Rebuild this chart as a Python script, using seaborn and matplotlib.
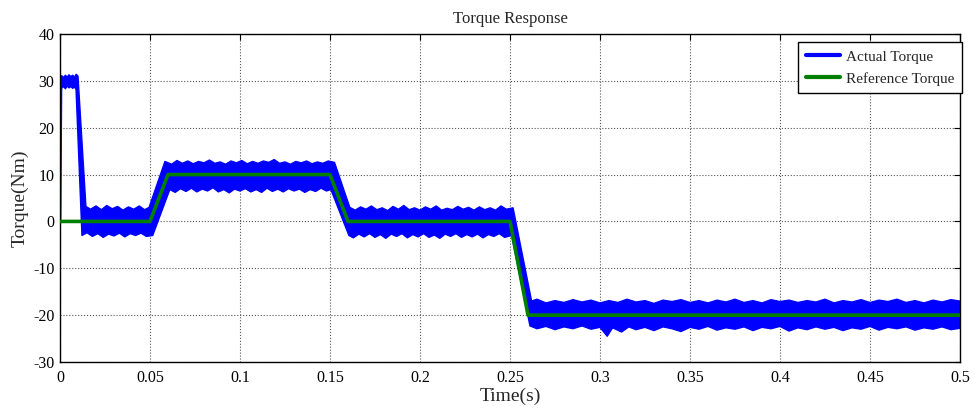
import numpy as np
import pandas as pd
import seaborn as sns
import matplotlib.pyplot as plt
from matplotlib.lines import Line2D

# reference torque (Nm) vs time (s)
t_ref = [0.0, 0.05, 0.06, 0.15, 0.16, 0.25, 0.26, 0.5]
torque_ref = [0, 0, 10, 10, 0, 0, -20, -20]

upper_edge = [
    (0.0, 0.0), (0.0002, 30.6), (0.001, 31.1), (0.002, 30.7), (0.003, 31.2),
    (0.004, 30.8), (0.005, 31.3), (0.006, 30.9), (0.007, 31.2), (0.008, 30.8),
    (0.009, 31.4), (0.0100, 31.0), (0.0144, 3.2),
    (0.017, 2.6), (0.020, 3.3), (0.023, 2.5), (0.026, 3.4), (0.029, 2.7),
    (0.032, 3.2), (0.035, 2.4), (0.038, 3.1), (0.041, 2.6), (0.044, 3.3),
    (0.047, 2.5), (0.0495, 3.0),
    (0.0583, 12.8), (0.062, 12.2), (0.065, 13.0), (0.068, 12.4), (0.071, 12.9),
    (0.074, 12.3), (0.077, 12.8), (0.080, 12.5), (0.083, 13.1), (0.086, 12.4),
    (0.089, 12.7), (0.092, 12.2), (0.095, 12.9), (0.098, 12.5), (0.101, 13.0),
    (0.104, 12.3), (0.107, 12.8), (0.110, 12.4), (0.113, 12.9), (0.116, 12.6),
    (0.119, 13.2), (0.122, 12.4), (0.125, 12.7), (0.128, 12.2), (0.131, 12.8),
    (0.134, 12.5), (0.137, 12.9), (0.140, 12.3), (0.143, 12.7), (0.146, 12.4),
    (0.149, 12.9), (0.1525, 12.6),
    (0.161, 3.0), (0.164, 2.4), (0.167, 3.1), (0.170, 2.6), (0.173, 3.3),
    (0.176, 2.5), (0.179, 2.9), (0.182, 2.3), (0.185, 3.2), (0.188, 2.6),
    (0.191, 3.4), (0.194, 2.5), (0.197, 2.9), (0.200, 2.4), (0.203, 3.1),
    (0.206, 2.6), (0.209, 3.3), (0.212, 2.4), (0.215, 2.8), (0.218, 2.5),
    (0.221, 3.2), (0.224, 2.6), (0.227, 3.0), (0.230, 2.4), (0.233, 3.1),
    (0.236, 2.5), (0.239, 2.9), (0.242, 2.4), (0.245, 3.3), (0.248, 2.6),
    (0.2517, 2.9),
    (0.2620, -17.0), (0.265, -16.6), (0.270, -17.4), (0.275, -16.9), (0.280, -17.3),
    (0.285, -16.7), (0.290, -17.2), (0.295, -16.8), (0.300, -17.4), (0.305, -16.9),
    (0.310, -17.3), (0.315, -16.6), (0.320, -17.2), (0.325, -16.9), (0.330, -17.5),
    (0.335, -16.8), (0.340, -17.1), (0.345, -16.7), (0.350, -17.3), (0.355, -16.9),
    (0.360, -17.4), (0.365, -16.8), (0.370, -17.2), (0.375, -16.6), (0.380, -17.3),
    (0.385, -16.9), (0.390, -17.4), (0.395, -16.7), (0.400, -17.1), (0.405, -16.8),
    (0.410, -17.3), (0.415, -16.9), (0.420, -17.2), (0.425, -16.6), (0.430, -17.4),
    (0.435, -16.9), (0.440, -17.2), (0.445, -16.7), (0.450, -17.3), (0.455, -16.8),
    (0.460, -17.1), (0.465, -16.6), (0.470, -17.3), (0.475, -16.9), (0.480, -17.4),
    (0.485, -16.8), (0.490, -17.2), (0.495, -16.7), (0.500, -17.0),
]

lower_edge = [
    (0.0, 0.0), (0.0004, 0.0), (0.0009, 28.4), (0.002, 28.8), (0.003, 28.3),
    (0.004, 28.9), (0.005, 28.5), (0.006, 28.8), (0.007, 28.4), (0.008, 28.7),
    (0.0089, 28.2), (0.0122, -3.0),
    (0.015, -2.4), (0.018, -3.2), (0.021, -2.6), (0.024, -3.4), (0.027, -2.7),
    (0.030, -3.1), (0.033, -2.5), (0.036, -3.3), (0.039, -2.6), (0.042, -3.0),
    (0.045, -2.5), (0.048, -3.2), (0.0515, -3.0),
    (0.0610, 6.8), (0.064, 6.2), (0.067, 7.0), (0.070, 6.4), (0.073, 7.1),
    (0.076, 6.3), (0.079, 6.9), (0.082, 6.5), (0.085, 7.2), (0.088, 6.3),
    (0.091, 6.8), (0.094, 6.1), (0.097, 6.9), (0.100, 6.5), (0.103, 7.0),
    (0.106, 6.3), (0.109, 6.8), (0.112, 6.2), (0.115, 7.1), (0.118, 6.4),
    (0.121, 6.9), (0.124, 6.3), (0.127, 7.0), (0.130, 6.5), (0.133, 6.9),
    (0.136, 6.2), (0.139, 6.8), (0.142, 6.4), (0.145, 7.1), (0.148, 6.5),
    (0.1505, 6.8),
    (0.1605, -3.0), (0.163, -3.5), (0.166, -2.7), (0.169, -3.3), (0.172, -2.6),
    (0.175, -3.4), (0.178, -2.8), (0.181, -3.6), (0.184, -2.7), (0.187, -3.2),
    (0.190, -2.6), (0.193, -3.5), (0.196, -2.8), (0.199, -3.3), (0.202, -2.6),
    (0.205, -3.4), (0.208, -2.9), (0.211, -3.6), (0.214, -2.7), (0.217, -3.2),
    (0.220, -2.6), (0.223, -3.4), (0.226, -2.8), (0.229, -3.3), (0.232, -2.7),
    (0.235, -3.5), (0.238, -2.8), (0.241, -3.2), (0.244, -2.6), (0.247, -3.4),
    (0.2509, -3.0),
    (0.2611, -22.3), (0.265, -22.9), (0.270, -22.4), (0.275, -23.1), (0.280, -22.5),
    (0.285, -22.9), (0.290, -22.3), (0.295, -23.0), (0.300, -22.6), (0.304, -24.5),
    (0.307, -22.7), (0.312, -23.6), (0.316, -22.5), (0.320, -23.1), (0.325, -22.6),
    (0.330, -23.3), (0.335, -22.5), (0.340, -22.9), (0.345, -23.5), (0.350, -22.6),
    (0.355, -23.0), (0.360, -22.4), (0.365, -23.2), (0.370, -22.7), (0.375, -23.0),
    (0.380, -22.5), (0.385, -23.3), (0.390, -22.6), (0.395, -22.9), (0.400, -22.4),
    (0.405, -23.4), (0.410, -22.7), (0.415, -23.1), (0.420, -22.5), (0.425, -23.0),
    (0.430, -22.6), (0.435, -23.3), (0.440, -22.7), (0.445, -23.0), (0.450, -22.4),
    (0.455, -23.2), (0.460, -22.6), (0.465, -22.9), (0.470, -22.5), (0.475, -23.2),
    (0.480, -22.7), (0.485, -23.0), (0.490, -22.5), (0.495, -23.1), (0.500, -22.8),
]

x_ticks = [0, 0.05, 0.1, 0.15, 0.2, 0.25, 0.3, 0.35, 0.4, 0.45, 0.5]
x_tick_labels = ["0", "0.05", "0.1", "0.15", "0.2", "0.25", "0.3", "0.35", "0.4", "0.45", "0.5"]
y_ticks = [-30, -20, -10, 0, 10, 20, 30, 40]

BLUE = "#0000ff"
GREEN = "#008000"

sns.set_theme(style="white")
plt.rcParams['font.family'] = ['Liberation Serif', 'DejaVu Serif']
plt.rcParams['axes.unicode_minus'] = False

up = pd.DataFrame(upper_edge, columns=["t", "v"])
lo = pd.DataFrame(lower_edge, columns=["t", "v"])
ref = pd.DataFrame({"t": t_ref, "v": torque_ref})

fig = plt.figure(figsize=(9.75, 4.16), dpi=100)
ax = fig.add_axes([60 / 975, 54 / 416, 900 / 975, 328 / 416])

# noisy band of the actual torque
poly_t = np.concatenate([up["t"].values, lo["t"].values[::-1]])
poly_v = np.concatenate([up["v"].values, lo["v"].values[::-1]])
ax.fill(poly_t, poly_v, color=BLUE, lw=0, zorder=2)
sns.lineplot(data=up, x="t", y="v", color=BLUE, lw=1.0, estimator=None, sort=False, ax=ax, zorder=2)
sns.lineplot(data=lo, x="t", y="v", color=BLUE, lw=1.0, estimator=None, sort=False, ax=ax, zorder=2)

# reference torque
sns.lineplot(data=ref, x="t", y="v", color=GREEN, lw=2.6, estimator=None, sort=False, ax=ax, zorder=3)

ax.set_xlim(0, 0.5)
ax.set_ylim(-30, 40)
ax.set_xticks(x_ticks)
ax.set_xticklabels(x_tick_labels)
ax.set_yticks(y_ticks)
ax.tick_params(direction="in", top=True, right=True, length=4, width=0.8,
               labelsize=11.5, colors="black")
ax.tick_params(axis="x", pad=6)
ax.tick_params(axis="y", pad=4)
ax.grid(True, linestyle=":", color="#555555", linewidth=0.8)
for s in ax.spines.values():
    s.set_color("black")
    s.set_linewidth(1.0)

ax.set_title("Torque Response", fontsize=12, pad=8)
ax.set_xlabel("Time(s)", fontsize=14, labelpad=1)
ax.set_ylabel("Torque(Nm)", fontsize=14, labelpad=3)

handles = [Line2D([0], [0], color=BLUE, lw=3), Line2D([0], [0], color=GREEN, lw=3)]
leg = ax.legend(handles, ["Actual Torque", "Reference Torque"], loc="upper right",
                bbox_to_anchor=(1.002, 0.975), borderaxespad=0, fontsize=11,
                fancybox=False, framealpha=1, edgecolor="black", handlelength=2.2,
                borderpad=0.5, labelspacing=0.55, handletextpad=0.4)
leg.get_frame().set_linewidth(1.0)

fig.savefig("out.png", dpi=100)
